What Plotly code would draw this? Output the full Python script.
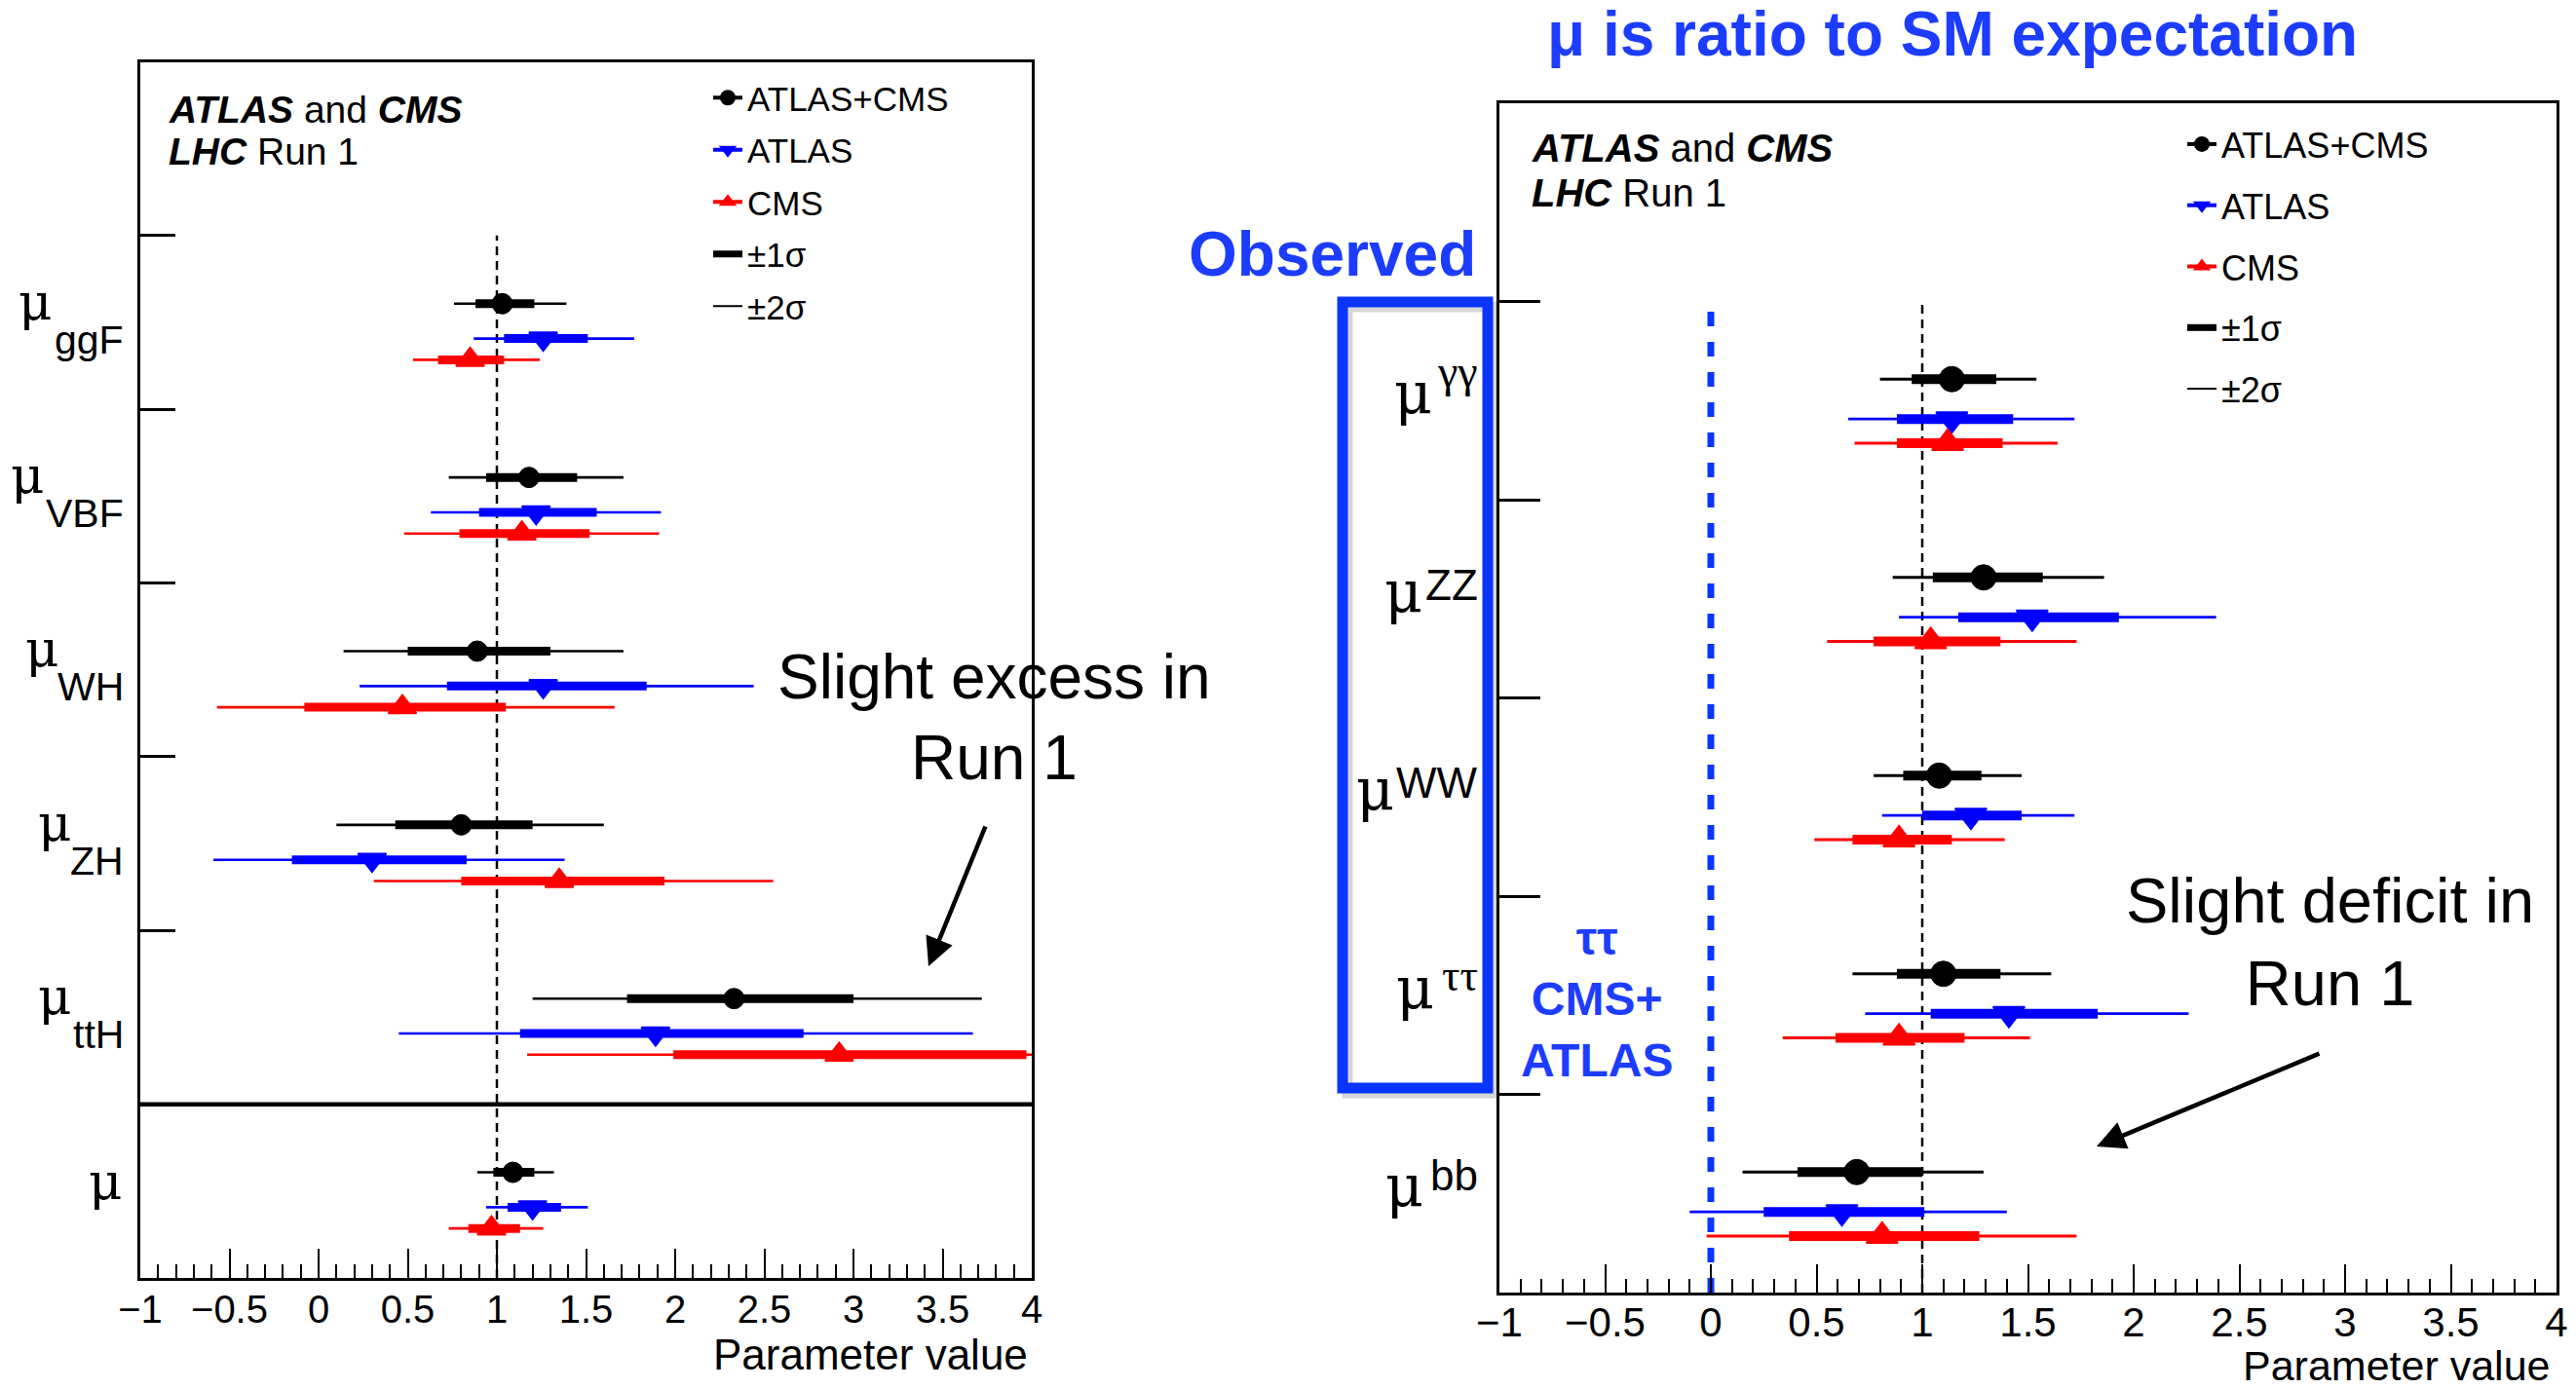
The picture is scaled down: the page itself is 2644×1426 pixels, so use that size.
import plotly.graph_objects as go

W, H = 2644, 1426

# ---------------- data: production modes (left panel) ----------------
prod_modes = ["ggF", "VBF", "WH", "ZH", "ttH", ""]          # "" = global signal strength

prod_comb_val = [1.03, 1.18, 0.89, 0.80, 2.33, 1.09]
prod_comb_lo1 = [0.88, 0.94, 0.50, 0.43, 1.73, 0.98]
prod_comb_hi1 = [1.21, 1.45, 1.30, 1.20, 3.00, 1.21]
prod_comb_lo2 = [0.76, 0.73, 0.14, 0.10, 1.20, 0.89]
prod_comb_hi2 = [1.39, 1.71, 1.71, 1.60, 3.72, 1.32]

prod_atlas_val = [1.26, 1.22, 1.26, 0.30, 1.89, 1.20]
prod_atlas_lo1 = [1.04, 0.90, 0.72, -0.15, 1.13, 1.06]
prod_atlas_hi1 = [1.51, 1.56, 1.84, 0.83, 2.72, 1.36]
prod_atlas_lo2 = [0.87, 0.63, 0.23, -0.59, 0.45, 0.94]
prod_atlas_hi2 = [1.77, 1.92, 2.44, 1.38, 3.67, 1.51]

prod_cms_val = [0.85, 1.14, 0.47, 1.35, 2.92, 0.97]
prod_cms_lo1 = [0.67, 0.79, -0.08, 0.80, 1.99, 0.84]
prod_cms_hi1 = [1.04, 1.52, 1.05, 1.94, 3.97, 1.13]
prod_cms_lo2 = [0.53, 0.48, -0.57, 0.31, 1.17, 0.73]
prod_cms_hi2 = [1.24, 1.91, 1.66, 2.55, 4.90, 1.26]

# ---------------- data: decay modes (right panel) ----------------
decay_modes = ["γγ", "ZZ", "WW", "ττ", "bb"]

decay_comb_val = [1.14, 1.29, 1.08, 1.10, 0.69]
decay_comb_lo1 = [0.95, 1.05, 0.91, 0.88, 0.41]
decay_comb_hi1 = [1.35, 1.57, 1.28, 1.37, 1.00]
decay_comb_lo2 = [0.80, 0.86, 0.77, 0.67, 0.15]
decay_comb_hi2 = [1.54, 1.86, 1.47, 1.61, 1.29]

decay_atlas_val = [1.14, 1.52, 1.23, 1.41, 0.62]
decay_atlas_lo1 = [0.88, 1.17, 1.00, 1.04, 0.25]
decay_atlas_hi1 = [1.43, 1.93, 1.47, 1.83, 1.01]
decay_atlas_lo2 = [0.65, 0.89, 0.81, 0.73, -0.10]
decay_atlas_hi2 = [1.72, 2.39, 1.72, 2.26, 1.40]

decay_cms_val = [1.12, 1.04, 0.89, 0.89, 0.81]
decay_cms_lo1 = [0.88, 0.77, 0.67, 0.59, 0.37]
decay_cms_hi1 = [1.38, 1.37, 1.14, 1.20, 1.27]
decay_cms_lo2 = [0.68, 0.55, 0.49, 0.34, -0.02]
decay_cms_hi2 = [1.64, 1.73, 1.39, 1.51, 1.73]

sm_value = 1.0
zero_value = 0.0

# ---------------- styling / layout helpers ----------------
FONT = "Liberation Sans, Arial, Helvetica, sans-serif"
SERIF = "Liberation Serif, Times New Roman, serif"
MUFONT = "DejaVu Serif, Liberation Serif, serif"
BLUE_TXT = "#1c3cff"
BLUE_BOX = "#0a35ff"
C_COMB, C_ATLAS, C_CMS = "#000000", "#0000ff", "#ff0000"
ROW_OFF = {"comb": 0.392, "atlas": 0.593, "cms": 0.715}


def PX(x):
    return x / W


def PY(y):
    return 1 - y / H


fig = go.Figure()


def add_series(xa, ya, ys, val, lo1, hi1, lo2, hi2, color, symbol, msize, w1, w2, mlw):
    e2 = dict(type="data", symmetric=False,
              array=[h - v for h, v in zip(hi2, val)],
              arrayminus=[v - l for v, l in zip(val, lo2)],
              color=color, thickness=w2, width=0)
    e1 = dict(type="data", symmetric=False,
              array=[h - v for h, v in zip(hi1, val)],
              arrayminus=[v - l for v, l in zip(val, lo1)],
              color=color, thickness=w1, width=0)
    for e in (e2, e1):
        fig.add_trace(go.Scatter(x=val, y=ys, mode="markers",
                                 marker=dict(size=1, color="rgba(0,0,0,0)"),
                                 error_x=e, xaxis=xa, yaxis=ya,
                                 showlegend=False, hoverinfo="skip"))
    fig.add_trace(go.Scatter(x=val, y=ys, mode="markers",
                             marker=dict(symbol=symbol, size=msize, color=color,
                                         line=dict(width=mlw, color=color)),
                             xaxis=xa, yaxis=ya, showlegend=False))


# left panel: slots counted from bottom (0..7), top slot holds the legend
n_prod = len(prod_modes)
prod_top = [n_prod - i for i in range(n_prod)]
add_series("x", "y", [t - ROW_OFF["comb"] for t in prod_top], prod_comb_val, prod_comb_lo1,
           prod_comb_hi1, prod_comb_lo2, prod_comb_hi2, C_COMB, "circle", 21, 9, 2.6, 1)
add_series("x", "y", [t - ROW_OFF["atlas"] for t in prod_top], prod_atlas_val, prod_atlas_lo1,
           prod_atlas_hi1, prod_atlas_lo2, prod_atlas_hi2, C_ATLAS, "triangle-down", 25, 9, 2.6, 2)
add_series("x", "y", [t - ROW_OFF["cms"] for t in prod_top], prod_cms_val, prod_cms_lo1,
           prod_cms_hi1, prod_cms_lo2, prod_cms_hi2, C_CMS, "triangle-up", 25, 9, 2.6, 2)

# right panel
n_dec = len(decay_modes)
dec_top = [n_dec - i for i in range(n_dec)]
add_series("x2", "y2", [t - ROW_OFF["comb"] for t in dec_top], decay_comb_val, decay_comb_lo1,
           decay_comb_hi1, decay_comb_lo2, decay_comb_hi2, C_COMB, "circle", 26, 10, 2.8, 1)
add_series("x2", "y2", [t - ROW_OFF["atlas"] for t in dec_top], decay_atlas_val, decay_atlas_lo1,
           decay_atlas_hi1, decay_atlas_lo2, decay_atlas_hi2, C_ATLAS, "triangle-down", 28, 10, 2.8, 2)
add_series("x2", "y2", [t - ROW_OFF["cms"] for t in dec_top], decay_cms_val, decay_cms_lo1,
           decay_cms_hi1, decay_cms_lo2, decay_cms_hi2, C_CMS, "triangle-up", 28, 10, 2.8, 2)

# legend entries (one legend per panel)
legend_items = [
    ("ATLAS+CMS", "lines+markers", C_COMB, "circle", 4),
    ("ATLAS", "lines+markers", C_ATLAS, "triangle-down", 4),
    ("CMS", "lines+markers", C_CMS, "triangle-up", 4),
    ("±1σ", "lines", C_COMB, None, 7),
    ("±2σ", "lines", C_COMB, None, 2),
]
for lg, xa, ya in (("legend", "x", "y"), ("legend2", "x2", "y2")):
    for k, (name, mode, col, sym, lw) in enumerate(legend_items):
        mk = dict(symbol=sym, size=16, color=col) if sym else None
        fig.add_trace(go.Scatter(x=[None], y=[None], mode=mode, name=name,
                                 line=dict(color=col, width=lw), marker=mk,
                                 legend=lg, legendgroup=f"{lg}_{k}",
                                 xaxis=xa, yaxis=ya, showlegend=True))

# ---------------- axes ----------------
def xaxis_cfg(domain, anchor, tfs, tlen, standoff):
    return dict(domain=domain, anchor=anchor, range=[-1, 4], tick0=-1, dtick=0.5,
                ticks="inside", ticklen=tlen, tickwidth=2, tickcolor="black",
                minor=dict(dtick=0.1, tick0=-1, ticks="inside", ticklen=14,
                           tickwidth=2, tickcolor="black", showgrid=False),
                showline=True, linewidth=3, linecolor="black", mirror=True,
                showgrid=False, zeroline=False, ticklabelstandoff=standoff, automargin=False,
                tickfont=dict(family=FONT, size=tfs, color="black"), fixedrange=True)


def yaxis_cfg(domain, anchor, nslots, tlen):
    return dict(domain=domain, anchor=anchor, range=[0, nslots],
                tickmode="array", tickvals=list(range(1, nslots + 1)),
                ticks="inside", ticklen=tlen, tickwidth=2.5, tickcolor="black",
                showticklabels=False, showline=True, linewidth=3, linecolor="black",
                mirror=True, showgrid=False, zeroline=False, automargin=False,
                fixedrange=True)


fig.update_layout(
    width=W, height=H, margin=dict(l=0, r=0, t=0, b=0, pad=0, autoexpand=False),
    paper_bgcolor="white", plot_bgcolor="white", showlegend=True,
    xaxis=xaxis_cfg([PX(144), PX(1059)], "y", 40, 30, -5),
    yaxis=yaxis_cfg([PY(1312), PY(63.5)], "x", n_prod + 1, 36),
    xaxis2=xaxis_cfg([PX(1539), PX(2624)], "y2", 42, 29, -8),
    yaxis2=yaxis_cfg([PY(1327), PY(106)], "x2", n_dec + 1, 42),
    legend=dict(x=PX(727), y=PY(71), xanchor="left", yanchor="top",
                bgcolor="rgba(0,0,0,0)", borderwidth=0, traceorder="grouped",
                tracegroupgap=5, font=dict(family=FONT, size=35, color="black")),
    legend2=dict(x=PX(2240), y=PY(118), xanchor="left", yanchor="top",
                 bgcolor="rgba(0,0,0,0)", borderwidth=0, traceorder="grouped",
                 tracegroupgap=13, font=dict(family=FONT, size=36, color="black")),
)

# ---------------- shapes ----------------
shapes = [
    # SM reference lines
    dict(type="line", xref="x", yref="y", x0=sm_value, x1=sm_value, y0=0, y1=n_prod,
         line=dict(color="black", width=2.5, dash="9px,6px"), layer="below"),
    dict(type="line", xref="x2", yref="y2", x0=sm_value, x1=sm_value, y0=0, y1=n_dec,
         line=dict(color="black", width=2.5, dash="9px,6px"), layer="below"),
    dict(type="line", xref="x2", yref="y2", x0=zero_value, x1=zero_value, y0=0, y1=n_dec,
         line=dict(color=BLUE_BOX, width=7, dash="15px,16px"), layer="below"),
    # separator between production modes and global mu
    dict(type="line", xref="x domain", yref="y", x0=0, x1=1, y0=1, y1=1,
         line=dict(color="black", width=4.5)),
    # "Observed" box (shadow + blue frame)
    dict(type="rect", xref="paper", yref="paper", x0=PX(1383), x1=PX(1532),
         y0=PY(1122), y1=PY(315), line=dict(color="rgba(0,0,0,0.16)", width=11)),
    dict(type="rect", xref="paper", yref="paper", x0=PX(1378), x1=PX(1527),
         y0=PY(1117), y1=PY(310), line=dict(color=BLUE_BOX, width=11)),
]
fig.update_layout(shapes=shapes)

# ---------------- annotations ----------------
ann = []


def text(x, y, s, size, xanchor="center", color="black", family=FONT, bold=False):
    ann.append(dict(x=PX(x), y=PY(y), xref="paper", yref="paper", text=s,
                    showarrow=False, xanchor=xanchor, yanchor="middle",
                    font=dict(family=family, size=size, color=color,
                              weight="bold" if bold else "normal")))


# experiment labels
text(171, 112, "<b><i>ATLAS</i></b> and <b><i>CMS</i></b>", 39, "left")
text(171, 156, "<b><i>LHC</i></b> Run 1", 39, "left")
text(1570, 152, "<b><i>ATLAS</i></b> and <b><i>CMS</i></b>", 40, "left")
text(1570, 198, "<b><i>LHC</i></b> Run 1", 40, "left")

# x-axis titles
text(1057, 1390, "Parameter value", 44, "right")
text(2620, 1402, "Parameter value", 43, "right")

# blue overlays
text(2004, 35, "μ is ratio to SM expectation", 64, color=BLUE_TXT, bold=True)
text(1367, 261, "Observed", 64, color=BLUE_TXT, bold=True)
text(1639, 1026, "ττ<br>CMS+<br>ATLAS", 48, color=BLUE_TXT, bold=True)

# comments
text(1020, 736, "Slight excess in<br>Run 1", 64)
text(2391, 967, "Slight deficit in<br>Run 1", 65)

# arrows
for hx, hy, tx, ty in ((953, 992, 1012, 847), (2152, 1177, 2382, 1081)):
    ann.append(dict(x=PX(hx), y=PY(hy), xref="paper", yref="paper", text="",
                    showarrow=True, ax=tx - hx, ay=ty - hy, axref="pixel", ayref="pixel",
                    arrowhead=2, arrowsize=1.3, arrowwidth=4.5, arrowcolor="black",
                    standoff=0))

# y labels, left panel: mu with subscript
prod_mu_right = [55, 47, 62, 75, 75, 127]
for i, lab in enumerate(prod_modes):
    yc = prod_top[i] - 0.5
    ann.append(dict(x=PX(prod_mu_right[i]), y=yc, xref="paper", yref="y", text="μ",
                    showarrow=False, xanchor="right", yanchor="middle",
                    yshift=22 if lab else 10,
                    font=dict(family=MUFONT, size=53, color="black")))
    if lab:
        ann.append(dict(x=PX(129), y=yc, xref="paper", yref="y", text=lab,
                        showarrow=False, xanchor="right", yanchor="middle", yshift=-17.5,
                        font=dict(family=FONT, size=41, color="black")))

# y labels, right panel: mu with superscript
dec_mu_right = [1472, 1462, 1433, 1474, 1463]
dec_sup_font = [SERIF, FONT, FONT, SERIF, FONT]
dec_sup_shift = [30, 14, 15, 20, 19]
for i, lab in enumerate(decay_modes):
    yc = dec_top[i] - 0.5
    ann.append(dict(x=PX(dec_mu_right[i]), y=yc, xref="paper", yref="y2", text="μ",
                    showarrow=False, xanchor="right", yanchor="middle", yshift=7,
                    font=dict(family=MUFONT, size=60, color="black")))
    ann.append(dict(x=PX(1519), y=yc, xref="paper", yref="y2", text=lab,
                    showarrow=False, xanchor="right", yanchor="middle",
                    yshift=dec_sup_shift[i],
                    font=dict(family=dec_sup_font[i], size=46 if i in (0, 3) else 44,
                              color="black")))

fig.update_layout(annotations=ann)

fig.write_html("out.html")
